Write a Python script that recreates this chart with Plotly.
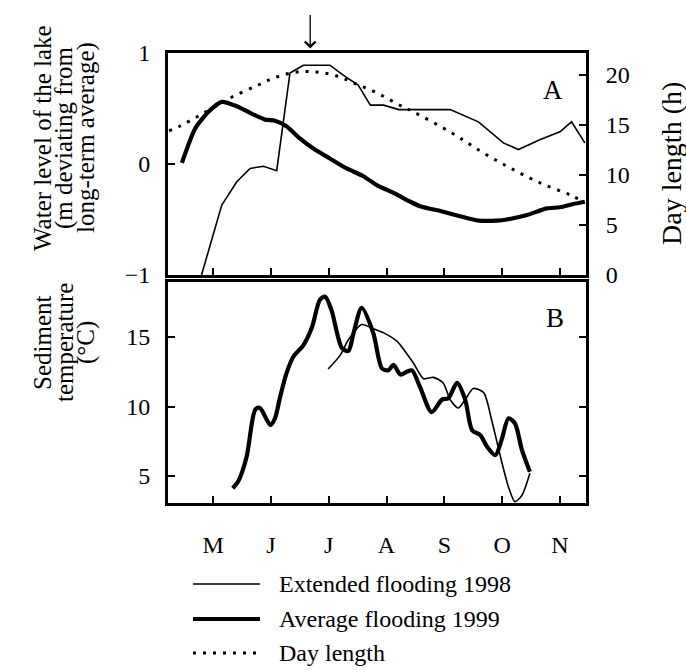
import plotly.graph_objects as go

# ---- data (x in months: 5 = 1 May, 6 = 1 June, ...) ----
wl98_x = [4.80, 5.15, 5.41, 5.64, 5.87, 6.10, 6.33, 6.56, 7.02, 7.25, 7.51, 7.72, 7.95, 8.21,
          9.10, 9.59, 10.02, 10.28, 10.66, 11.00, 11.20, 11.43]
wl98_y = [-1.00, -0.37, -0.16, -0.04, -0.02, -0.06, 0.82, 0.89, 0.89, 0.80, 0.71, 0.53, 0.53, 0.49,
          0.49, 0.38, 0.19, 0.13, 0.22, 0.29, 0.38, 0.19]

wl99_x = [4.46, 4.69, 4.92, 5.15, 5.41, 5.64, 5.90, 6.07, 6.27, 6.50, 6.76, 7.02, 7.31, 7.60,
          7.83, 8.12, 8.41, 8.58, 8.98, 9.27, 9.59, 9.91, 10.08, 10.43, 10.77, 11.00, 11.23, 11.43]
wl99_y = [0.01, 0.32, 0.47, 0.56, 0.52, 0.46, 0.40, 0.39, 0.34, 0.23, 0.13, 0.05, -0.04, -0.11,
          -0.19, -0.26, -0.34, -0.38, -0.43, -0.47, -0.51, -0.51, -0.50, -0.46, -0.40, -0.39, -0.36, -0.34]

day_x = [4.24, 4.43, 4.78, 5.26, 5.78, 6.10, 6.45, 6.79, 7.14, 7.43, 7.80, 8.29, 8.47, 9.13,
         9.65, 10.14, 10.66, 11.18, 11.35]
day_h = [14.4, 14.9, 16.0, 17.6, 19.0, 19.8, 20.3, 20.3, 19.9, 19.2, 18.3, 16.8, 16.3, 14.2,
         12.3, 10.7, 9.2, 8.0, 7.5]

t98_x = [6.99, 7.20, 7.34, 7.57, 7.77, 7.95, 8.18, 8.35, 8.47, 8.64, 8.81, 8.98, 9.10, 9.24,
         9.36, 9.50, 9.68, 9.82, 9.97, 10.11, 10.22, 10.34, 10.48]
t98_y = [12.7, 13.7, 14.8, 15.9, 15.6, 15.3, 14.7, 13.8, 13.1, 12.0, 12.1, 11.7, 10.5, 9.9,
         10.5, 11.3, 11.0, 9.0, 6.4, 4.2, 3.15, 3.6, 5.2]

t99_x = [5.34, 5.44, 5.58, 5.73, 5.81, 5.99, 6.07, 6.16, 6.27, 6.39, 6.56, 6.71, 6.85, 6.94,
         7.05, 7.23, 7.34, 7.43, 7.57, 7.77, 7.92, 8.03, 8.12, 8.24, 8.35, 8.44, 8.58, 8.78,
         8.96, 9.07, 9.22, 9.36, 9.48, 9.62, 9.74, 9.88, 9.99, 10.11, 10.22, 10.34, 10.48]
t99_y = [4.12, 4.66, 6.39, 9.78, 9.90, 8.67, 9.15, 10.7, 12.4, 13.6, 14.4, 15.7, 17.7, 17.9,
         16.9, 14.2, 14.0, 15.3, 17.1, 15.3, 12.75, 12.6, 13.0, 12.3, 12.5, 12.6, 11.4, 9.6,
         10.5, 10.6, 11.7, 10.5, 8.3, 7.95, 7.1, 6.5, 7.6, 9.15, 8.8, 6.9, 5.3]

month_vals = [5, 6, 7, 8, 9, 10, 11]
month_text = ["M", "J", "J", "A", "S", "O", "N"]

legend_labels = ["Extended flooding 1998", "Average flooding 1999", "Day length"]

FONT = "Liberation Serif"
FS = 24
W, H = 686, 670

def px_x(p):
    return p / W

def px_y(p):
    return 1 - p / H

THIN = dict(color="black", width=1.6)
THICK = dict(color="black", width=4.2)
DOTTED = dict(color="black", width=3, dash="3px,7px")

fig = go.Figure()

fig.add_trace(go.Scatter(x=wl98_x, y=wl98_y, mode="lines", xaxis="x", yaxis="y",
                         line=THIN, name=legend_labels[0]))
fig.add_trace(go.Scatter(x=wl99_x, y=wl99_y, mode="lines", xaxis="x", yaxis="y",
                         line=dict(**THICK, shape="spline", smoothing=0.6), name=legend_labels[1]))
fig.add_trace(go.Scatter(x=day_x, y=day_h, mode="lines", xaxis="x", yaxis="y2",
                         line=dict(**DOTTED, shape="spline"), name=legend_labels[2]))
fig.add_trace(go.Scatter(x=t98_x, y=t98_y, mode="lines", xaxis="x2", yaxis="y3",
                         line=dict(**THIN, shape="spline", smoothing=0.7), name=legend_labels[0]))
fig.add_trace(go.Scatter(x=t99_x, y=t99_y, mode="lines", xaxis="x2", yaxis="y3",
                         line=dict(**THICK, shape="spline", smoothing=0.8), name=legend_labels[1]))

xdom = [px_x(168), px_x(586)]
xr = [4.22, 11.45]
common = dict(showline=True, linecolor="black", linewidth=3, ticks="inside", ticklen=7,
              tickwidth=2, tickcolor="black", showgrid=False, zeroline=False, automargin=False,
              tickfont=dict(family=FONT, size=FS, color="black"))

fig.update_layout(
    width=W, height=H, margin=dict(l=0, r=0, t=0, b=0),
    paper_bgcolor="white", plot_bgcolor="white", template="none",
    font=dict(family=FONT, size=FS, color="black"),
    xaxis=dict(domain=xdom, range=xr, anchor="y", tickvals=month_vals, showticklabels=False,
               mirror=True, **common),
    yaxis=dict(domain=[px_y(275), px_y(53)], range=[-1, 1], tickvals=[-1, 0, 1],
               ticklabelstandoff=10, anchor="x", **common),
    yaxis2=dict(overlaying="y", side="right", range=[0, 22.2], tickvals=[0, 5, 10, 15, 20],
                ticklabelstandoff=12, anchor="x", **common),
    xaxis2=dict(domain=xdom, range=xr, anchor="y3", tickvals=month_vals, ticktext=month_text,
                mirror=True, ticklabelstandoff=18, **common),
    yaxis3=dict(domain=[px_y(503), px_y(282)], range=[3.06, 18.96], tickvals=[5, 10, 15],
                mirror="ticks", ticklabelstandoff=10, anchor="x2", **common),
    showlegend=False,
)

annos = []
# left titles, one annotation per line
for txt, xp in [("Water level of the lake", 42), ("(m deviating from", 64), ("long-term average)", 86)]:
    annos.append(dict(text=txt, x=px_x(xp), y=px_y(138), xref="paper", yref="paper",
                      xanchor="center", yanchor="middle",
                      textangle=-90, showarrow=False, font=dict(family=FONT, size=25)))
for txt, xp in [("Sediment", 42), ("temperature", 64), ("(°C)", 86)]:
    annos.append(dict(text=txt, x=px_x(xp), y=px_y(343), xref="paper", yref="paper",
                      xanchor="center", yanchor="middle",
                      textangle=-90, showarrow=False, font=dict(family=FONT, size=25)))
annos.append(dict(text="Day length (h)", x=px_x(672), y=px_y(164), xref="paper", yref="paper",
                  xanchor="center", yanchor="middle",
                  textangle=-90, showarrow=False, font=dict(family=FONT, size=28)))
annos.append(dict(text="A", x=px_x(553), y=px_y(90), xref="paper", yref="paper",
                  xanchor="center", yanchor="middle",
                  showarrow=False, font=dict(family=FONT, size=27)))
annos.append(dict(text="B", x=px_x(555), y=px_y(318), xref="paper", yref="paper",
                  xanchor="center", yanchor="middle",
                  showarrow=False, font=dict(family=FONT, size=27)))
annos.append(dict(text="", x=6.68, y=1.02, xref="x", yref="y domain", showarrow=True,
                  ax=0, ay=-35, arrowhead=4, arrowwidth=1.3, arrowsize=1.6, arrowcolor="black"))

# legend (key lines + labels)
shapes = []
for lab, style, yp in zip(legend_labels, [THIN, THICK, DOTTED], [584, 619, 653]):
    shapes.append(dict(type="line", xref="paper", yref="paper", x0=px_x(193), x1=px_x(260),
                       y0=px_y(yp), y1=px_y(yp), line=style))
    annos.append(dict(text=lab, x=px_x(277), y=px_y(yp), xref="paper", yref="paper",
                      xanchor="left", yanchor="middle", showarrow=False,
                      font=dict(family=FONT, size=FS)))
fig.update_layout(annotations=annos, shapes=shapes)

fig.write_html("out.html")
